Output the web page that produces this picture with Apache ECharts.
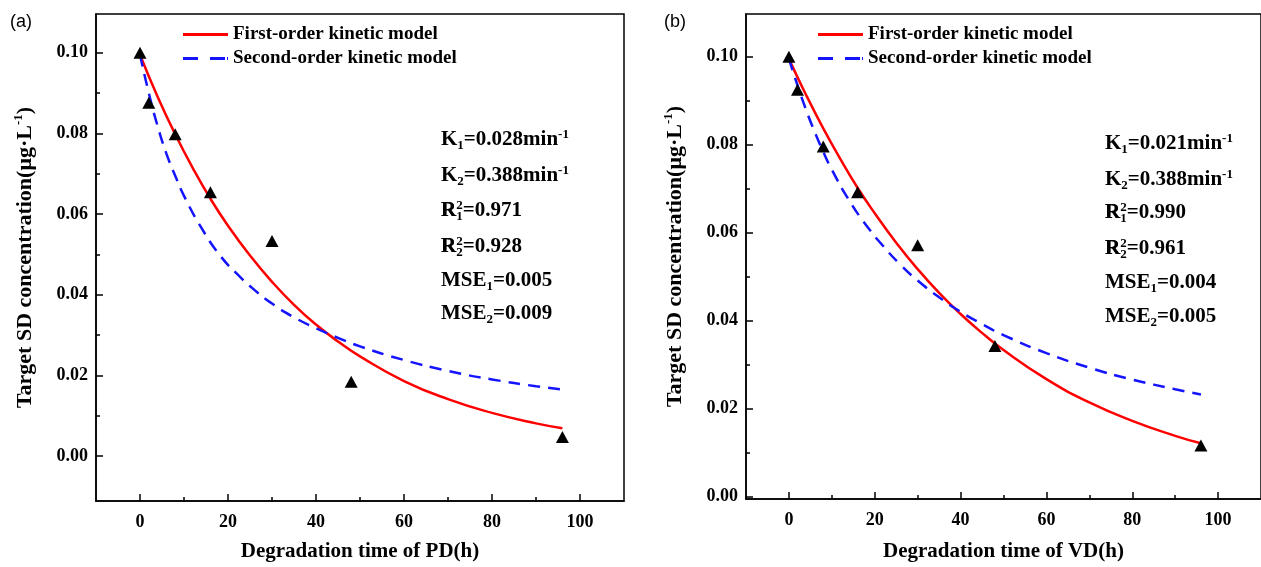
<!DOCTYPE html>
<html>
<head>
<meta charset="utf-8">
<script src="https://cdn.jsdelivr.net/npm/echarts@6/dist/echarts.min.js"></script>
<style>
  html, body { margin: 0; padding: 0; background: #fff; }
  #chart { width: 1261px; height: 567px; }
</style>
</head>
<body>
<div id="chart"></div>
<script>
// measured points
const timePD = [0, 2, 8, 16, 30, 48, 96];
const concPD = [0.100, 0.0876, 0.0798, 0.0654, 0.0533, 0.0184, 0.0047];
const timeVD = [0, 2, 8, 16, 30, 48, 96];
const concVD = [0.100, 0.0925, 0.0796, 0.0692, 0.0571, 0.0342, 0.0116];

// fitted curves
const firstT = [0, 4, 8, 12, 16, 20, 25, 30, 35, 40, 45, 50, 60, 70, 80, 90, 96];
const firstPD = [0.0995, 0.0891, 0.0798, 0.0714, 0.0638, 0.0571, 0.0497, 0.0432, 0.0375, 0.0326, 0.0284, 0.0247, 0.0186, 0.0141, 0.0107, 0.0081, 0.0069];
const firstVD = [0.0995, 0.0913, 0.0837, 0.0767, 0.0702, 0.0644, 0.0577, 0.0517, 0.0463, 0.0415, 0.0372, 0.0333, 0.0267, 0.0214, 0.0172, 0.0138, 0.0121];
const secondT = [0, 2, 4, 6, 8, 10, 14, 18, 22, 26, 30, 35, 40, 45, 50, 60, 70, 80, 90, 96];
const secondPD = [0.0995, 0.0900, 0.0818, 0.0750, 0.0695, 0.0645, 0.0565, 0.0500, 0.0452, 0.0412, 0.0378, 0.0344, 0.0317, 0.0293, 0.0272, 0.0238, 0.0211, 0.0190, 0.0173, 0.0165];
const secondVD = [0.0995, 0.0935, 0.0879, 0.0829, 0.0784, 0.0743, 0.0674, 0.0617, 0.0569, 0.0527, 0.0491, 0.0453, 0.0420, 0.0392, 0.0367, 0.0326, 0.0293, 0.0266, 0.0244, 0.0232];

// axis ticks
const xTicks = [0, 20, 40, 60, 80, 100];
const xMinor = [10, 30, 50, 70, 90];
const yTicks = [0, 0.02, 0.04, 0.06, 0.08, 0.1];
const yMinor = [0.01, 0.03, 0.05, 0.07, 0.09];

// K1, K2, R1^2, R2^2, MSE1, MSE2
const statsPD = ["0.028", "0.388", "0.971", "0.928", "0.005", "0.009"];
const statsVD = ["0.021", "0.388", "0.990", "0.961", "0.004", "0.005"];

const seriesNames = ["First-order kinetic model", "Second-order kinetic model"];
const xNames = ["Degradation time of PD(h)", "Degradation time of VD(h)"];
const yName = "Target SD concentration(μg·L{sup|-1})";
const panelLabels = ["(a)", "(b)"];

const SERIF = "'Liberation Serif', 'Times New Roman', serif";
const zip = (xs, ys) => xs.map((x, i) => [x, ys[i]]);

const richStyle = {
  b: { fontFamily: SERIF, fontSize: 21, fontWeight: "bold", color: "#000", lineHeight: 24 },
  h: { fontFamily: SERIF, fontSize: 21, fontWeight: "bold", color: "rgba(0,0,0,0)", lineHeight: 24 },
  sub: { fontFamily: SERIF, fontSize: 13, fontWeight: "bold", color: "#000", lineHeight: 12, verticalAlign: "bottom" },
  sup: { fontFamily: SERIF, fontSize: 13, fontWeight: "bold", color: "#000", lineHeight: 12, verticalAlign: "top" },
};

function statTexts(s, x, ys) {
  const lines = [
    "{b|K}{sub|1}{b|=" + s[0] + "min}{sup|-1}",
    "{b|K}{sub|2}{b|=" + s[1] + "min}{sup|-1}",
    "{b|R}{sup|2}{b|=" + s[2] + "}",
    "{b|R}{sup|2}{b|=" + s[3] + "}",
    "{b|MSE}{sub|1}{b|=" + s[4] + "}",
    "{b|MSE}{sub|2}{b|=" + s[5] + "}",
  ];
  const out = lines.map((t, i) => ({
    type: "text", x: x, y: ys[i], z: 100,
    style: { text: t, rich: richStyle, align: "left", verticalAlign: "middle" },
  }));
  // stacked subscripts under R^2
  ["{h|R}{sub|1}", "{h|R}{sub|2}"].forEach((t, i) => {
    out.push({
      type: "text", x: x, y: ys[i + 2], z: 100,
      style: { text: t, rich: richStyle, align: "left", verticalAlign: "middle" },
    });
  });
  return out;
}

const grids = [
  { left: 96, right: 637, top: 14, bottom: 58 },
  { left: 746, right: -14, top: 14, bottom: 61 },
];
const yRanges = [[-0.01115, 0.1096], [-0.00056, 0.1097]];
const xNameGaps = [40, 42];

const tickLine = { color: "#000", width: 1.5 };
const labelFont = { fontFamily: SERIF, fontSize: 18, fontWeight: "bold", color: "#000" };

const xAxes = [];
const yAxes = [];
grids.forEach((g, i) => {
  xAxes.push({
    type: "value", gridIndex: i, position: "bottom", min: -10, max: 110,
    axisLine: { onZero: false, lineStyle: tickLine },
    axisTick: { inside: true, length: 7, customValues: xTicks, lineStyle: tickLine },
    axisLabel: Object.assign({ customValues: xTicks, margin: 12 }, labelFont),
    splitLine: { show: false },
    name: xNames[i], nameLocation: "middle", nameGap: xNameGaps[i],
    nameTextStyle: { fontFamily: SERIF, fontSize: 21, fontWeight: "bold", color: "#000" },
  });
  xAxes.push({
    type: "value", gridIndex: i, position: "bottom", min: -10, max: 110,
    axisLine: { show: false, onZero: false },
    axisTick: { inside: true, length: 4, customValues: xMinor, lineStyle: tickLine },
    axisLabel: { show: false }, splitLine: { show: false },
  });
  yAxes.push({
    type: "value", gridIndex: i, position: "left", min: yRanges[i][0], max: yRanges[i][1],
    axisLine: { show: true, onZero: false, lineStyle: tickLine },
    axisTick: { show: true, inside: true, length: 7, customValues: yTicks, lineStyle: tickLine },
    axisLabel: Object.assign({
      customValues: yTicks, margin: 8,
      formatter: (v) => v.toFixed(2),
    }, labelFont),
    splitLine: { show: false },
    name: yName, nameLocation: "middle", nameGap: 58, nameRotate: 90,
    nameTextStyle: {
      fontFamily: SERIF, fontSize: 22, fontWeight: "bold", color: "#000", lineHeight: 26,
      rich: { sup: richStyle.sup },
    },
  });
  yAxes.push({
    type: "value", gridIndex: i, position: "left", min: yRanges[i][0], max: yRanges[i][1],
    axisLine: { show: false, onZero: false },
    axisTick: { show: true, inside: true, length: 4, customValues: yMinor, lineStyle: tickLine },
    axisLabel: { show: false }, splitLine: { show: false },
  });
});

const panels = [
  { t: timePD, c: concPD, f: firstPD, s: secondPD },
  { t: timeVD, c: concVD, f: firstVD, s: secondVD },
];
const series = [];
panels.forEach((p, i) => {
  series.push({
    type: "line", name: seriesNames[0], xAxisIndex: 2 * i, yAxisIndex: 2 * i,
    data: zip(firstT, p.f), symbol: "none", smooth: true,
    lineStyle: { color: "#ff0000", width: 2.5 }, itemStyle: { color: "#ff0000" }, z: 2,
  });
  series.push({
    type: "line", name: seriesNames[1], xAxisIndex: 2 * i, yAxisIndex: 2 * i,
    data: zip(secondT, p.s), symbol: "none", smooth: true,
    lineStyle: { color: "#1414ff", width: 2.5, type: [12, 8] }, itemStyle: { color: "#1414ff" }, z: 2,
  });
  series.push({
    type: "scatter", name: "data", xAxisIndex: 2 * i, yAxisIndex: 2 * i,
    data: zip(p.t, p.c), symbol: "triangle", symbolSize: [13, 12],
    itemStyle: { color: "#000", opacity: 1 }, z: 5,
  });
});

// legend keys: solid bar and two dashes
const legendIcons = [
  "path://M0,0H45V3H0Z",
  "path://M0,0H15V3H0Z M27,0H42V3H27Z M44,0H45V3H44Z",
];
const legendText = { fontFamily: SERIF, fontSize: 19, fontWeight: "bold", color: "#000", lineHeight: 19 };
const legends = [183, 818].map((left) => ({
  left: left, top: 25, padding: 0, orient: "vertical", itemWidth: 45, itemHeight: 3, itemGap: 5,
  data: seriesNames.map((n, k) => ({ name: n, icon: legendIcons[k] })),
  textStyle: legendText, selectedMode: false,
}));

const graphic = []
  .concat(statTexts(statsPD, 441, [140, 176, 211, 247, 281, 314]))
  .concat(statTexts(statsVD, 1105, [144, 180, 213, 249, 283, 317]))
  .concat(panelLabels.map((t, i) => ({
    type: "text", x: i === 0 ? 10 : 664, y: 22,
    style: { text: t, fontFamily: "'Liberation Sans', Arial, sans-serif", fontSize: 18, fill: "#000", verticalAlign: "middle" },
  })));

const myChart = echarts.init(document.getElementById("chart"));
myChart.setOption({
  animation: false,
  backgroundColor: "#fff",
  grid: grids.map((g) => Object.assign({ show: true, borderColor: "#000", borderWidth: 1.5 }, g)),
  xAxis: xAxes,
  yAxis: yAxes,
  legend: legends,
  series: series,
  graphic: graphic,
});
</script>
</body>
</html>
